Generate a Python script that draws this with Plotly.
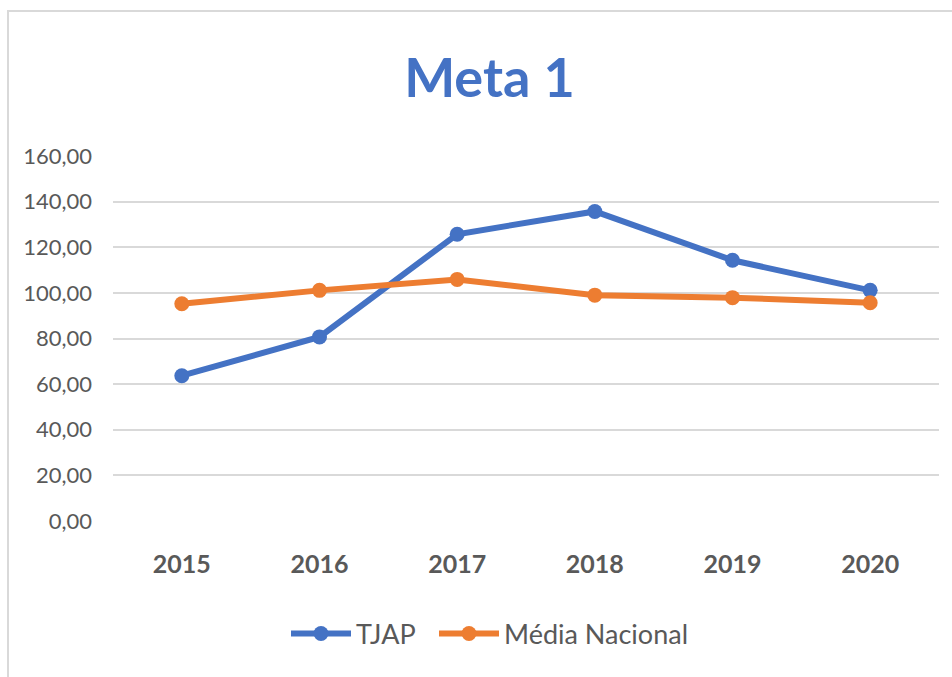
import plotly.graph_objects as go

# Series data
anos = ["2015", "2016", "2017", "2018", "2019", "2020"]
tjap = [63.7, 80.7, 125.7, 135.7, 114.3, 101.1]
media_nacional = [95.2, 101.1, 105.9, 99.0, 97.9, 95.7]
y_ticks = [0, 20, 40, 60, 80, 100, 120, 140, 160]

AZUL = "#4472C4"
LARANJA = "#ED7D31"
TEXTO = "#595959"
GRADE = "#D9D9D9"
FONTE = "Lato, 'Open Sans', sans-serif"

W, H = 952, 677
M_L, M_R, M_T, M_B = 113, 13, 156, 156
plot_w = W - M_L - M_R
plot_h = H - M_T - M_B


def px_x(p):
    return (p - M_L) / plot_w


def px_y(p):
    return (H - M_B - p) / plot_h


fig = go.Figure()
fig.add_trace(go.Scatter(
    x=anos, y=tjap, name="TJAP", mode="lines+markers",
    legend="legend",
    line=dict(color=AZUL, width=6),
    marker=dict(color=AZUL, size=15),
))
fig.add_trace(go.Scatter(
    x=anos, y=media_nacional, name="Média Nacional", mode="lines+markers",
    legend="legend2",
    line=dict(color=LARANJA, width=6),
    marker=dict(color=LARANJA, size=15),
))

# Outer chart frame
fig.add_shape(
    type="rect", xref="paper", yref="paper",
    x0=px_x(8), x1=px_x(W + 40), y0=px_y(11), y1=px_y(H + 40),
    line=dict(color=GRADE, width=2), fillcolor="rgba(0,0,0,0)", layer="below",
)

legenda_base = dict(
    orientation="h", y=px_y(634), xanchor="left", yanchor="middle",
    font=dict(family=FONTE, size=27, color=TEXTO),
    bgcolor="rgba(0,0,0,0)", itemwidth=60,
)

fig.update_layout(
    width=W, height=H,
    margin=dict(l=M_L, r=M_R, t=M_T, b=M_B),
    paper_bgcolor="white", plot_bgcolor="white",
    separators=", ",
    font=dict(family=FONTE, color=TEXTO),
    title=dict(
        text="Meta 1", xref="container", yref="container",
        x=489.5 / W, y=1 - 78 / H, xanchor="center", yanchor="middle",
        font=dict(family=FONTE, size=54, color=AZUL, weight="bold"),
    ),
    showlegend=True,
    legend=dict(legenda_base, x=px_x(286)),
    legend2=dict(legenda_base, x=px_x(434)),
    xaxis=dict(
        type="category", range=[-0.5, 5.5],
        showgrid=False, zeroline=False, showline=False,
        ticks="", tickfont=dict(family=FONTE, size=25, color=TEXTO, weight="bold"),
        ticklabelstandoff=26,
    ),
    yaxis=dict(
        range=[0, 160], tickvals=y_ticks, tickformat=".2f",
        showgrid=True, gridcolor=GRADE, gridwidth=1.5,
        zeroline=False, showline=False, ticks="",
        tickfont=dict(family=FONTE, size=22, color=TEXTO),
        ticklabelstandoff=20,
    ),
)

fig.write_html("out.html")
